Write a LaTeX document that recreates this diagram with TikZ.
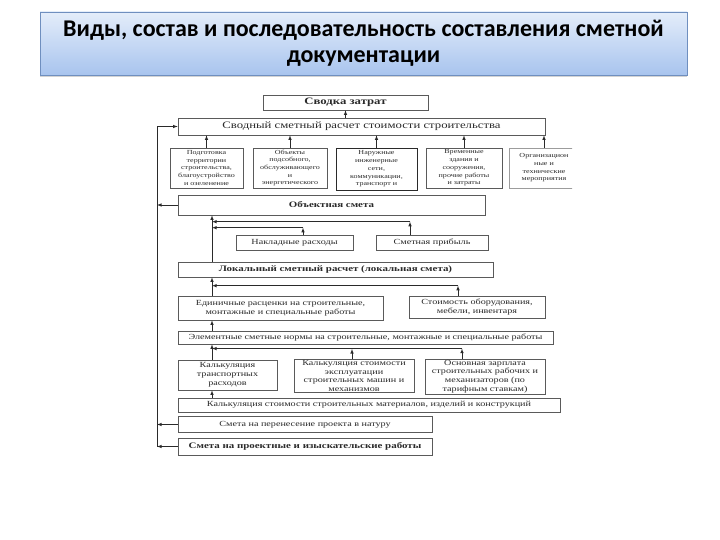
\documentclass[tikz,border=0pt]{standalone}
\usepackage{fontspec}
\setmainfont{Liberation Serif}
\newfontfamily\headfont{Carlito}
\newfontfamily\scanfont[FakeStretch=1.3]{Liberation Serif}
\usetikzlibrary{positioning, arrows.meta, shadows}
\definecolor{ink}{HTML}{2A2A2A}
\definecolor{frame}{HTML}{5A5A5A}
\definecolor{headtop}{HTML}{E4EDFA}
\definecolor{headbot}{HTML}{A8C4EE}
\definecolor{headline}{HTML}{6F8FBF}
\tikzstyle{head}=[draw=headline, top color=headtop, bottom color=headbot, drop shadow={opacity=0.35, shadow xshift=0pt, shadow yshift=-2pt}, minimum width=647pt, minimum height=63pt, align=center, font=\headfont\bfseries\fontsize{24}{26}\selectfont, text=black]
\tikzstyle{block}=[draw=frame, fill=white, rectangle, align=center, inner sep=1pt, text=ink, font=\scanfont\fontsize{7.8}{8.8}\selectfont]
\tikzstyle{small}=[block, font=\scanfont\fontsize{6.2}{7.7}\selectfont]
\tikzstyle{heavy}=[block, font=\scanfont\bfseries\fontsize{8.4}{9}\selectfont]

\begin{document}
\begin{tikzpicture}[>=latex, x=1pt, y=-1pt, line width=0.6pt, draw=ink]
\useasboundingbox (0,0) rectangle (720,540);
\node[head] (title) at (363.5,43.5) {Виды, состав и последовательность составления сметной\\документации};

% upper part
\node[heavy, font=\scanfont\bfseries\fontsize{9.8}{10}\selectfont, minimum width=165pt, minimum height=15pt] (svodka) at (345.5,102.5) {Сводка затрат};
\node[block, font=\scanfont\fontsize{9.8}{10}\selectfont, minimum width=367pt, minimum height=17pt] (svodny) at (361.5,126.5) {Сводный сметный расчет стоимости строительства};
\node[small, minimum width=73pt, minimum height=40pt] (b1) at (206.5,168) {Подготовка\\территории\\строительства,\\благоустройство\\и озеленение};
\node[small, minimum width=74pt, minimum height=40pt] (b2) at (290,168) {Объекты\\подсобного,\\обслуживающего\\и\\энергетического};
\node[small, draw=ink, line width=0.9pt, minimum width=81pt, minimum height=42pt] (b3) at (376.5,169) {Наружные\\инженерные\\сети,\\коммуникации,\\транспорт и};
\node[small, minimum width=76pt, minimum height=40pt] (b4) at (464,168) {Временные\\здания и\\сооружения,\\прочие работы\\и затраты};
\begin{scope}
\clip (500,140) rectangle (572,200);
\node[small, draw=frame!60, minimum width=70pt, minimum height=40pt] (b5) at (544,168) {Организацион\\ные и\\технические\\мероприятия};
\end{scope}
\node[heavy, minimum width=307pt, minimum height=20pt] (object) at (331.5,205) {Объектная смета};
\node[block, minimum width=117pt, minimum height=15pt] (nakl) at (294.5,242.5) {Накладные расходы};
\node[block, minimum width=112pt, minimum height=15pt] (pribyl) at (432,242.5) {Сметная прибыль};

% lower part
\node[heavy, minimum width=315pt, minimum height=15pt] (local) at (335.5,269.5) {Локальный сметный расчет (локальная смета)};
\node[block, minimum width=205pt, minimum height=24pt] (edin) at (280.5,308) {Единичные расценки на строительные,\\монтажные и специальные работы};
\node[block, minimum width=136pt, minimum height=22pt] (oborud) at (477,307) {Стоимость оборудования,\\мебели, инвентаря};
\node[block, minimum width=375pt, minimum height=13pt] (element) at (365.5,337.5) {Элементные сметные нормы на строительные, монтажные и специальные работы};
\node[block, minimum width=99pt, minimum height=30pt] (transp) at (227.5,375) {Калькуляция\\транспортных\\расходов};
\node[block, minimum width=120pt, minimum height=32pt] (mash) at (354,376) {Калькуляция стоимости\\эксплуатации\\строительных машин и\\механизмов};
\node[block, minimum width=120pt, minimum height=33pt] (zarpl) at (485,376.5) {Основная зарплата\\строительных рабочих и\\механизаторов (по\\тарифным ставкам)};
\node[block, minimum width=382pt, minimum height=14pt] (mater) at (369,405) {Калькуляция стоимости строительных материалов, изделий и конструкций};
\node[block, minimum width=254pt, minimum height=16pt] (perenos) at (305,424.5) {Смета на перенесение проекта в натуру};
\node[heavy, minimum width=254pt, minimum height=17pt] (proekt) at (305,446.5) {Смета на проектные и изыскательские работы};

% connectors
\coordinate (bus) at (157,0);
\coordinate (spine) at (212,0);
\draw[->] (svodka.south |- svodny.north) -- (svodka.south);
\foreach \b in {b1,b2,b3,b4,b5}
  \draw[->] (\b.north) -- (\b.north |- svodny.south);
\draw[->] (bus |- proekt.west) -- (bus |- svodny.west) -- (svodny.west);
\draw[->] (object.west) -- (bus |- object.west);
\draw[->] (perenos.west) -- (bus |- perenos.west);
\draw[->] (proekt.west) -- (bus |- proekt.west);

\draw[->] (spine |- local.north) -- (spine |- object.south);
\draw[->] ([xshift=8.5pt]nakl.north) -- ++(0,-7) coordinate (nk);
\draw[->] (nk) -- (spine |- nk);
\draw[->] ([xshift=-22pt]pribyl.north) -- ++(0,-13) coordinate (pk);
\draw[->] (pk) -- (spine |- pk);

\draw[->] (spine |- edin.north) -- (spine |- local.south);
\draw[->] ([xshift=-19pt]oborud.north) -- ++(0,-10) coordinate (ok);
\draw[->] (ok) -- (spine |- ok);

\draw[->] (spine |- element.north) -- (spine |- edin.south);
\draw[->] (spine |- transp.north) -- (spine |- element.south);
\draw[->] ([xshift=-2pt]mash.north) -- ++(0,-10);
\draw[->] ([xshift=-23pt]zarpl.north) -- ++(0,-10) coordinate (zk);
\draw[->] (zk) -- (spine |- zk);
\draw[->] (spine |- mater.north) -- (spine |- transp.south);
\end{tikzpicture}
\end{document}
